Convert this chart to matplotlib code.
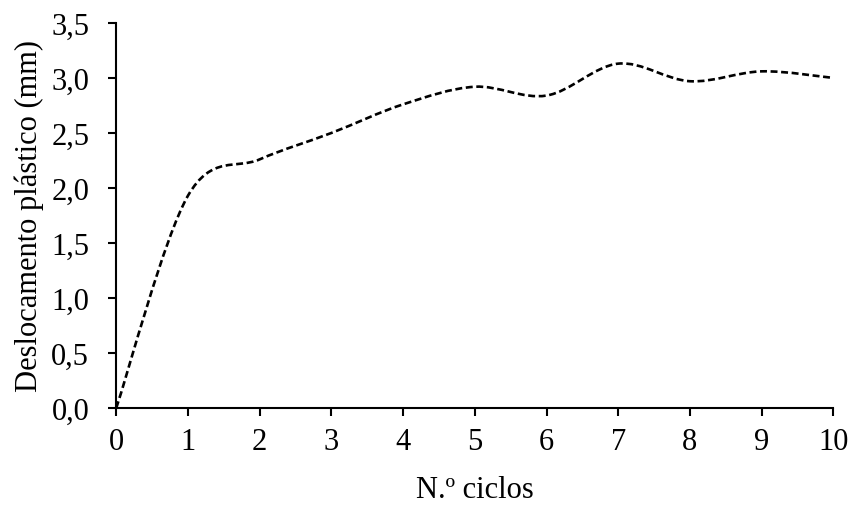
import matplotlib
matplotlib.use("Agg")
import matplotlib.pyplot as plt
from matplotlib.path import Path
from matplotlib.patches import PathPatch
import numpy as np

plt.rcParams['font.family'] = ['Liberation Serif', 'DejaVu Serif']
plt.rcParams['lines.scale_dashes'] = False

ciclos = [0, 1, 2, 3, 4, 5, 6, 7, 8, 9, 10]
deslocamento = [0.0, 1.93, 2.26, 2.50, 2.76, 2.92, 2.84, 3.13, 2.97, 3.06, 3.00]
yticks = [0.0, 0.5, 1.0, 1.5, 2.0, 2.5, 3.0, 3.5]
ytick_labels = ["0,0", "0,5", "1,0", "1,5", "2,0", "2,5", "3,0", "3,5"]

fig = plt.figure(figsize=(8.53, 5.06), dpi=100)
ax = fig.add_axes([0.1363, 0.1917, 0.8407, 0.761])

# Smoothed line (Excel-style Catmull-Rom Bezier through data points)
x = np.array(ciclos, dtype=float)
y = np.array(deslocamento, dtype=float)
n = len(x)
verts = [(x[0], y[0])]
codes = [Path.MOVETO]
for i in range(n - 1):
    xm, ym = (x[i - 1], y[i - 1]) if i > 0 else (x[i], y[i])
    xp, yp = (x[i + 2], y[i + 2]) if i + 2 < n else (x[i + 1], y[i + 1])
    c1 = (x[i] + (x[i + 1] - xm) / 6, y[i] + (y[i + 1] - ym) / 6)
    c2 = (x[i + 1] - (xp - x[i]) / 6, y[i + 1] - (yp - y[i]) / 6)
    verts += [c1, c2, (x[i + 1], y[i + 1])]
    codes += [Path.CURVE4] * 3
patch = PathPatch(Path(verts, codes), fill=False, edgecolor='black',
                  linewidth=1.9, linestyle=(0, (5.0, 2.6)), capstyle='butt')
ax.add_patch(patch)

ax.set_xlim(0, 10)
ax.set_ylim(0, 3.5)
ax.set_xticks(ciclos)
ax.set_yticks(yticks)
ax.set_yticklabels(ytick_labels)

for s in ['top', 'right']:
    ax.spines[s].set_visible(False)
for s in ['left', 'bottom']:
    ax.spines[s].set_linewidth(1.5)

ax.tick_params(axis='both', direction='out', length=5.5, width=1.5,
               labelsize=22, colors='black')
ax.tick_params(axis='y', pad=14)
ax.tick_params(axis='x', pad=8)

ax.set_xlabel("N.º ciclos", fontsize=22, labelpad=14)
ax.set_ylabel("Deslocamento plástico (mm)", fontsize=22, labelpad=5)

fig.savefig("out.png", dpi=100)
